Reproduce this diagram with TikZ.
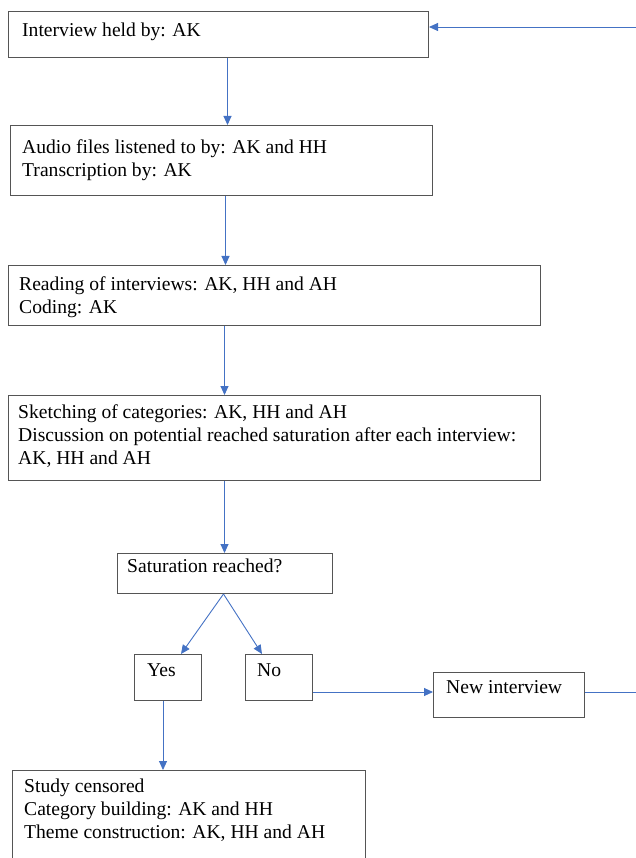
\documentclass[tikz,border=0pt]{standalone}
\usepackage{fontspec}
\setmainfont{Liberation Serif}
\usetikzlibrary{arrows.meta,calc}
\definecolor{arr}{HTML}{4472C4}
\definecolor{edge}{HTML}{555555}
\begin{document}
\begin{tikzpicture}[x=1pt,y=-1pt,
  box/.style={draw=edge, line width=1pt, anchor=north west, inner sep=0pt},
  txt/.style={anchor=north west, align=left, inner sep=0pt, yshift=13.4pt, font=\fontsize{19.6}{23}\selectfont},
  conn/.style={draw=arr, line width=0.9pt, -{Triangle[length=9pt,width=8pt]}},
  plain/.style={draw=arr, line width=0.9pt}]
\useasboundingbox (0,0) rectangle (636,858);
\clip (0,0) rectangle (636,858);

% boxes
\node[box, minimum width=420pt, minimum height=46pt] (b1) at (8,11) {};
\node[txt] (t1) at (22,36) {Interview held by: AK};

\node[box, minimum width=422pt, minimum height=70pt] (b2) at (10,125) {};
\node[txt] (t2) at (22,153) {Audio files listened to by: AK and HH\\Transcription by: AK};

\node[box, minimum width=532pt, minimum height=60pt] (b3) at (8,265) {};
\node[txt] (t3) at (19,290) {Reading of interviews: AK, HH and AH\\Coding: AK};

\node[box, minimum width=532pt, minimum height=85pt] (b4) at (8,395) {};
\node[txt] (t4) at (18,418) {Sketching of categories: AK, HH and AH\\Discussion on potential reached saturation after each interview:\\AK, HH and AH};

\node[box, minimum width=215pt, minimum height=40pt] (b5) at (117,553) {};
\node[txt] (t5) at (127,572) {Saturation reached?};

\node[box, minimum width=67pt, minimum height=46pt] (yes) at (134,654) {};
\node[txt] (tyes) at (147,677) {Yes};

\node[box, minimum width=67pt, minimum height=46pt] (no) at (245,654) {};
\node[txt] (tno) at (257,677) {No};

\node[box, minimum width=151pt, minimum height=45pt] (new) at (433,672) {};
\node[txt] (tnew) at (446,694) {New interview};

\node[box, minimum width=353pt, minimum height=110pt] (study) at (12,770) {};
\node[txt] (tstudy) at (24,792) {Study censored\\Category building: AK and HH\\Theme construction: AK, HH and AH};

% connectors
\draw[conn] ([xshift=9pt]b1.south) -- ([xshift=9pt]b1.south |- b2.north);
\draw[conn] ([xshift=4pt]b2.south) -- ([xshift=4pt]b2.south |- b3.north);
\draw[conn] ([xshift=-50pt]b3.south) -- ([xshift=-50pt]b3.south |- b4.north);
\draw[conn] ([xshift=-50pt]b4.south) -- ([xshift=-50pt]b4.south |- b5.north);
\coordinate (split) at ([xshift=-1.5pt]b5.south);
\draw[conn] (split) -- ([xshift=13pt]yes.north);
\draw[conn] (split) -- ([xshift=-17pt]no.north);
\draw[conn] (no.east |- 0,692) -- (new.west |- 0,692);
\coordinate (re) at (640,692);
\coordinate (rt) at (640,27);
\draw[plain] (new.east |- re) -- (re);
\draw[conn] (rt) -- (rt -| b1.east);
\draw[conn] ([xshift=-5pt]yes.south) -- ([xshift=-5pt]yes.south |- study.north);
\end{tikzpicture}
\end{document}
